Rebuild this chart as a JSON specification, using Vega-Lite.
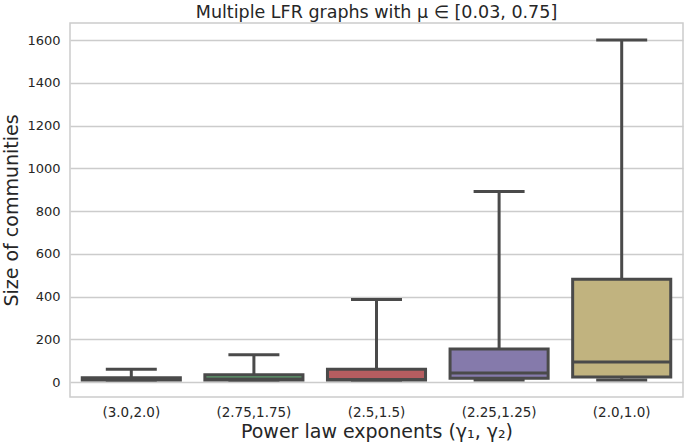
{
  "$schema": "https://vega.github.io/schema/vega-lite/v6.json",
  "width": 613,
  "height": 374,
  "autosize": "none",
  "padding": {"left": 70, "top": 23, "right": 2, "bottom": 48},
  "background": "white",
  "title": {"text": "Multiple LFR graphs with μ ∈ [0.03, 0.75]", "font": "DejaVu Sans", "fontSize": 17.5, "fontWeight": "normal", "color": "#262626", "offset": 2, "anchor": "middle"},
  "config": {
    "view": {"stroke": "#cccccc", "strokeWidth": 1.5},
    "axis": {"labelFont": "DejaVu Sans", "titleFont": "DejaVu Sans", "labelColor": "#262626", "titleColor": "#262626", "titleFontWeight": "normal", "domain": false, "ticks": false}
  },
  "data": {"values": [
    {"g": "(3.0,2.0)", "lo": 10, "q1": 10, "med": 12, "q3": 20, "hi": 60, "c": "#5a5a5a"},
    {"g": "(2.75,1.75)", "lo": 10, "q1": 10, "med": 14, "q3": 34, "hi": 128, "c": "#5f9e6e"},
    {"g": "(2.5,1.5)", "lo": 10, "q1": 10, "med": 12, "q3": 60, "hi": 386, "c": "#b55d60"},
    {"g": "(2.25,1.25)", "lo": 10, "q1": 18, "med": 42, "q3": 155, "hi": 891, "c": "#857aab"},
    {"g": "(2.0,1.0)", "lo": 10, "q1": 23, "med": 94, "q3": 481, "hi": 1600, "c": "#c1b37f"}
  ]},
  "encoding": {
    "x": {"field": "g", "type": "nominal", "sort": null, "scale": {"paddingInner": 0, "paddingOuter": 0},
      "axis": {"title": "Power law exponents (γ₁, γ₂)", "labelAngle": 0, "labelFontSize": 13.5, "titleFontSize": 19, "labelPadding": 8, "titlePadding": 4, "grid": false}}
  },
  "layer": [
    {"mark": {"type": "rule", "color": "#4a4a4a", "strokeWidth": 3},
     "encoding": {"y": {"field": "q3", "type": "quantitative", "scale": {"domain": [-70, 1680], "nice": false},
        "axis": {"title": "Size of communities", "values": [0,200,400,600,800,1000,1200,1400,1600], "format": "d", "labelFontSize": 13, "titleFontSize": 19, "labelPadding": 10, "titlePadding": 5, "grid": true, "gridColor": "#cccccc", "gridWidth": 1.3}},
       "y2": {"field": "hi"}}},
    {"mark": {"type": "rule", "color": "#4a4a4a", "strokeWidth": 3},
     "encoding": {"y": {"field": "lo", "type": "quantitative"}, "y2": {"field": "q1"}}},
    {"mark": {"type": "tick", "color": "#4a4a4a", "thickness": 3, "size": 51, "opacity": 1},
     "encoding": {"y": {"field": "hi", "type": "quantitative"}}},
    {"mark": {"type": "tick", "color": "#4a4a4a", "thickness": 3, "size": 51, "opacity": 1},
     "encoding": {"y": {"field": "lo", "type": "quantitative"}}},
    {"mark": {"type": "bar", "width": {"band": 0.8}, "stroke": "#4a4a4a", "strokeWidth": 3, "opacity": 1},
     "encoding": {"y": {"field": "q1", "type": "quantitative"}, "y2": {"field": "q3"}, "fill": {"field": "c", "type": "nominal", "scale": null}}},
    {"mark": {"type": "tick", "color": "#4a4a4a", "thickness": 3, "size": 98, "opacity": 1},
     "encoding": {"y": {"field": "med", "type": "quantitative"}}}
  ]
}
